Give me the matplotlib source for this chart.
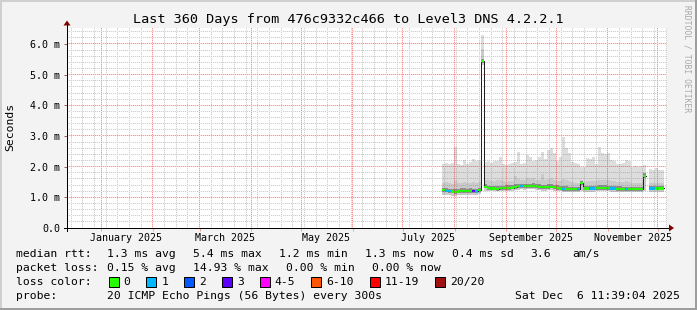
import numpy as np
import matplotlib
matplotlib.use("Agg")
import matplotlib.pyplot as plt
import matplotlib.dates as mdates
from matplotlib.lines import Line2D
from matplotlib.patches import Polygon, Rectangle
from datetime import datetime, timedelta

# ---------------- data ----------------
title = "Last 360 Days from 476c9332c466 to Level3 DNS 4.2.2.1"
period_end = datetime(2025, 12, 6, 11, 39, 4)
period_days = 360
first_sample = datetime(2025, 7, 25, 7, 0)
sample_step_days = 1.8
nan = float("nan")

# median round trip time (ms)
median_ms = [
    1.24, 1.22, 1.20, 1.19, 1.18, 1.19, 1.21, 1.21, 1.20, 1.21, 1.20, 1.19, 1.24,
    5.44,
    1.35, 1.30, 1.29, 1.29, 1.28, 1.30, 1.30, 1.31, 1.31, 1.32, 1.34, 1.36, 1.37, 1.36, 1.37, 1.37,
    1.38, 1.36, 1.34, 1.33, 1.33, 1.34, 1.35, 1.33, 1.31, 1.29, 1.28, 1.28, 1.27, 1.26, 1.26, 1.27,
    1.46,
    1.29, 1.29, 1.29, 1.29, 1.30, 1.31, 1.31, 1.31, 1.30, 1.29, 1.29, 1.28, 1.28, 1.27, 1.27, 1.27,
    1.27, 1.27, 1.27, 1.27,
    1.70,
    nan,
    1.29, 1.29, 1.29, 1.29, 1.29,
]
# lowest ping (ms)
smoke_low_ms = [
    1.08, 1.07, 1.06, 1.05, 1.05, 1.06, 1.08, 1.08, 1.07, 1.08, 1.07, 1.06, 1.10,
    5.30,
    1.22, 1.20, 1.19, 1.19, 1.19, 1.20, 1.20, 1.21, 1.21, 1.22, 1.23, 1.25, 1.26, 1.25, 1.26, 1.26,
    1.26, 1.25, 1.23, 1.22, 1.22, 1.23, 1.24, 1.22, 1.21, 1.19, 1.18, 1.18, 1.17, 1.16, 1.16, 1.17,
    1.20,
    1.18, 1.18, 1.18, 1.18, 1.19, 1.20, 1.20, 1.20, 1.19, 1.18, 1.18, 1.17, 1.17, 1.16, 1.16, 1.16,
    1.16, 1.16, 1.16, 1.16,
    1.20,
    nan,
    1.18, 1.18, 1.18, 1.18, 1.18,
]
# upper edge of the denser smoke (ms)
smoke_mid_ms = [
    1.48, 1.50, 1.46, 1.45, 1.52, 1.47, 1.46, 1.50, 1.47, 1.48, 1.50, 1.48, 1.50,
    5.85,
    1.58, 1.55, 1.52, 1.53, 1.55, 1.58, 1.52, 1.50, 1.52, 1.54, 1.68, 1.60, 1.56, 1.58, 1.62, 1.60,
    1.62, 1.58, 1.56, 1.75, 1.58, 1.60, 1.62, 1.58, 1.54, 1.52, 1.60, 1.56, 1.52, 1.50, 1.48, 1.48,
    1.58,
    1.50, 1.52, 1.52, 1.54, 1.52, 1.58, 1.56, 1.55, 1.55, 1.52, 1.52, 1.50, 1.50, 1.50, 1.52, 1.50,
    1.48, 1.48, 1.48, 1.48,
    1.80,
    nan,
    1.48, 1.47, 1.48, 1.46, 1.46,
]
# highest ping (ms)
smoke_high_ms = [
    2.10, 2.12, 2.08, 2.12, 2.65, 2.10, 2.05, 2.22, 2.08, 2.15, 2.25, 2.20, 2.22,
    6.30,
    2.15, 2.18, 2.12, 2.18, 2.20, 2.32, 2.10, 2.05, 2.08, 2.12, 2.15, 2.49, 2.10, 2.12, 2.38, 2.30,
    2.20, 2.22, 2.30, 2.49, 2.25, 2.54, 2.60, 2.45, 2.20, 2.30, 2.97, 2.60, 2.43, 2.15, 2.12, 2.10,
    2.00,
    2.00, 2.29, 2.25, 2.30, 2.10, 2.65, 2.45, 2.40, 2.43, 2.21, 2.20, 2.10, 2.10, 2.12, 2.21, 2.18,
    2.00, 2.02, 2.00, 2.02,
    2.05,
    nan,
    1.92, 1.90, 1.95, 1.90, 1.88,
]
# lost pings out of 20
lost_pings = [
    0, 1, 1, 0, 0, 0, 0, 0, 0, 0, 3, 1, 0,
    0,
    0, 0, 0, 0, 0, 0, 0, 0, 0, 0, 0, 0, 1, 0, 0, 0,
    0, 0, 0, 0, 0, 0, 0, 0, 0, 0, 1, 0, 0, 0, 0, 1,
    0,
    0, 0, 1, 1, 0, 0, 0, 0, 0, 1, 1, 0, 0, 0, 1, 0,
    0, 0, 0, 0,
    0,
    0,
    1, 1, 0, 0, 0,
]

month_labels = ["January 2025", "March 2025", "May 2025", "July 2025",
                "September 2025", "November 2025"]
y_ticks = [0, 1, 2, 3, 4, 5, 6]
y_tick_labels = ["0.0", "1.0 m", "2.0 m", "3.0 m", "4.0 m", "5.0 m", "6.0 m"]
y_minor_step = 0.2
y_label = "Seconds"

loss_names = ["0", "1", "2", "3", "4-5", "6-10", "11-19", "20/20"]
loss_upper = [0, 1, 2, 3, 5, 10, 19, 20]
loss_colors = ["#26ff00", "#00b8ff", "#0059ff", "#5e00ff", "#ff00ff",
               "#ff5500", "#ff0000", "#a01010"]

rtt_stats = ["1.3 ms avg", "5.4 ms max", "1.2 ms min", "1.3 ms now", "0.4 ms sd", "3.6", "am/s"]
loss_stats = ["0.15 % avg", "14.93 % max", "0.00 % min", "0.00 % now"]
probe_text = "20 ICMP Echo Pings (56 Bytes) every 300s"
stamp_text = "Sat Dec  6 11:39:04 2025"
watermark = "RRDTOOL / TOBI OETIKER"

# ---------------- layout ----------------
W, H = 697, 310
MONO = "DejaVu Sans Mono"
BG = "#f3f3f3"
PX = 0.72  # one pixel in points
MAJ_ON = (1.0, 0.0, 0.0, 0.42)
MAJ_OFF = (1.0, 0.0, 0.0, 0.14)
MIN_ON = (0.45, 0.45, 0.45, 0.33)
MIN_OFF = (0.45, 0.45, 0.45, 0.08)
WEEK_DAY = 5  # weekly minor grid falls on Saturdays in the reference

fig = plt.figure(figsize=(W / 100, H / 100), dpi=100, facecolor=BG)


def fx(x):
    return x / W


def fy(y):
    return 1 - y / H


ax = fig.add_axes([fx(67), fy(228), 600 / W, 200 / H])
ax.set_facecolor("white")
for s in ax.spines.values():
    s.set_visible(False)

start = period_end - timedelta(days=period_days)
x0, x1 = mdates.date2num(start), mdates.date2num(period_end)
ymax = 6.52
ax.set_xlim(x0, x1)
ax.set_ylim(0, ymax)

# ---- grid positions ----
month_starts = []
d = datetime(start.year, start.month, 1)
while d <= period_end:
    if d > start:
        month_starts.append(mdates.date2num(d))
    d = datetime(d.year + (d.month // 12), d.month % 12 + 1, 1)
weeks = []
d = datetime(start.year, start.month, start.day) + timedelta(days=1)
while d.weekday() != WEEK_DAY:
    d += timedelta(days=1)
while d <= period_end:
    if d.day != 1:
        weeks.append(mdates.date2num(d))
    d += timedelta(days=7)
minor_y = [v for v in np.arange(y_minor_step, ymax, y_minor_step)
           if abs(v - round(v)) > 1e-6]

# rasterise the dotted 1px grid at pixel positions given by the axes transform
bb = ax.bbox
gx0, gy0 = int(round(bb.x0)), int(round(bb.y0))
gw, gh = int(round(bb.width)), int(round(bb.height))
grid = np.zeros((gh, gw, 4))


def col_of(xv):
    return int(np.floor(ax.transData.transform((xv, 0))[0] - gx0))


def row_of(yv):
    return int(np.floor(gy0 + gh - ax.transData.transform((x0, yv))[1]))


def vline(c, on, off):
    if 0 <= c < gw:
        grid[1::2, c] = off
        grid[0::2, c] = on


def hline(r, on, off):
    if 0 <= r < gh:
        grid[r, 1::2] = off
        grid[r, 0::2] = on


for v in minor_y:
    hline(row_of(v), MIN_ON, MIN_OFF)
for v in weeks:
    vline(col_of(v), MIN_ON, MIN_OFF)
for v in y_ticks[1:]:
    hline(row_of(v), MAJ_ON, MAJ_OFF)
for v in month_starts:
    vline(col_of(v), MAJ_ON, MAJ_OFF)

fig.figimage(grid, xo=gx0, yo=gy0, origin="upper", zorder=1)

ax.set_yticks(y_ticks)
ax.set_yticklabels(y_tick_labels, family=MONO, fontsize=7.2)
ax.tick_params(axis="y", which="major", length=3 * PX, width=PX, direction="out",
               color="#a06060", pad=4 * PX)
ax.set_xticks(month_starts)
ax.tick_params(axis="x", which="major", length=3 * PX, width=PX, direction="out",
               color="#f4a0a0", labelbottom=False)

# month labels centred half a month after the month start
for name in month_labels:
    dd = datetime.strptime(name, "%B %Y") + timedelta(days=15)
    ax.text(mdates.date2num(dd), -10 / 200, name, transform=ax.get_xaxis_transform(),
            ha="center", va="center", family=MONO, fontsize=7.2)

# ---------------- data drawing ----------------
med = np.array(median_ms, float)
lo = np.array(smoke_low_ms, float)
mid = np.array(smoke_mid_ms, float)
hi = np.array(smoke_high_ms, float)
lost = np.array(lost_pings)
n = len(med)
t = mdates.date2num(first_sample) + np.arange(n) * sample_step_days
h = sample_step_days / 2
xs = np.column_stack([t - h, t + h]).ravel()


def ex(a):
    return np.repeat(a, 2)


ok = ex(np.isfinite(med))
ax.fill_between(xs, ex(lo), ex(hi), where=ok, color="#dddddd", lw=0, zorder=1)
ax.fill_between(xs, ex(lo), ex(mid), where=ok, color="#cacaca", lw=0, zorder=1.1)
core_below, core_above = 0.06, 0.08
ax.fill_between(xs, ex(med) - core_below, ex(med) + core_above, where=ok,
                color="#8e8e8e", lw=0, zorder=1.2)
ax.plot(xs, ex(med), color="#202020", lw=PX, zorder=3, snap=True)

bucket = np.searchsorted(loss_upper, lost)
band = 0.035
for k, col in enumerate(loss_colors):
    m = ex(bucket == k) & ok
    if m.any():
        ax.fill_between(xs, ex(med) - band, ex(med) + band, where=m, color=col,
                        lw=0, zorder=4)

# ---------------- axes lines and arrows ----------------
fig.add_artist(Line2D([fx(64), fx(669)], [fy(228), fy(228)], color="black", lw=PX,
                      snap=True, zorder=3))
fig.add_artist(Line2D([fx(67), fx(67)], [fy(231), fy(25)], color="black", lw=PX,
                      snap=True, zorder=3))
fig.add_artist(Polygon([(fx(669), fy(224.5)), (fx(674), fy(228)), (fx(669), fy(231.5))],
                       closed=True, color="#7f0000", lw=0, transform=fig.transFigure, zorder=3))
fig.add_artist(Polygon([(fx(63.5), fy(25.5)), (fx(67), fy(20.5)), (fx(70.5), fy(25.5))],
                       closed=True, color="#7f0000", lw=0, transform=fig.transFigure, zorder=3))

# ---------------- texts ----------------
fig.text(fx(348), fy(19), title, ha="center", va="center", family=MONO, fontsize=9.7)
fig.text(fx(10), fy(127), y_label, rotation=90, ha="center", va="center",
         family=MONO, fontsize=8.2)
fig.text(fx(687), fy(5), watermark, rotation=-90, ha="center", va="top",
         family=MONO, fontsize=5.8, color="#a8a8a8")

FS = 8.2
row1, row2, row3, row4 = 254, 268, 282, 296
fig.text(fx(16), fy(row1), "median rtt:", va="center", family=MONO, fontsize=FS)
for s, x in zip(rtt_stats, [107.3, 193.3, 279.3, 365, 451.7, 530, 572.3]):
    fig.text(fx(x), fy(row1), s, va="center", family=MONO, fontsize=FS)

fig.text(fx(16), fy(row2), "packet loss:", va="center", family=MONO, fontsize=FS)
for s, x in zip(loss_stats, [107.3, 193.3, 286, 372.3]):
    fig.text(fx(x), fy(row2), s, va="center", family=MONO, fontsize=FS)

fig.text(fx(16), fy(row3), "loss color:", va="center", family=MONO, fontsize=FS)
bx = 108.5
for name, col in zip(loss_names, loss_colors):
    fig.add_artist(Rectangle((fx(bx), fy(row3 + 5)), 10 / W, 10 / H, facecolor=col,
                             edgecolor="black", lw=PX, transform=fig.transFigure))
    fig.text(fx(bx + 14.8), fy(row3), name, va="center", family=MONO, fontsize=FS)
    bx += 14.8 + len(name) * 6.85 + 16.2

fig.text(fx(16), fy(row4), "probe:", va="center", family=MONO, fontsize=FS)
fig.text(fx(107.3), fy(row4), probe_text, va="center", family=MONO, fontsize=FS)
fig.text(fx(680), fy(row4), stamp_text, va="center", ha="right", family=MONO, fontsize=FS)

# 3D frame
fig.add_artist(Line2D([0, 1], [fy(0.5), fy(0.5)], color="#cfcfcf", lw=2 * PX))
fig.add_artist(Line2D([fx(0.5), fx(0.5)], [0, 1], color="#cfcfcf", lw=2 * PX))
fig.add_artist(Line2D([0, 1], [fy(H - 1), fy(H - 1)], color="#9e9e9e", lw=2 * PX))
fig.add_artist(Line2D([fx(W - 1), fx(W - 1)], [0, 1], color="#9e9e9e", lw=2 * PX))

fig.savefig("out.png", dpi=100, facecolor=BG)
